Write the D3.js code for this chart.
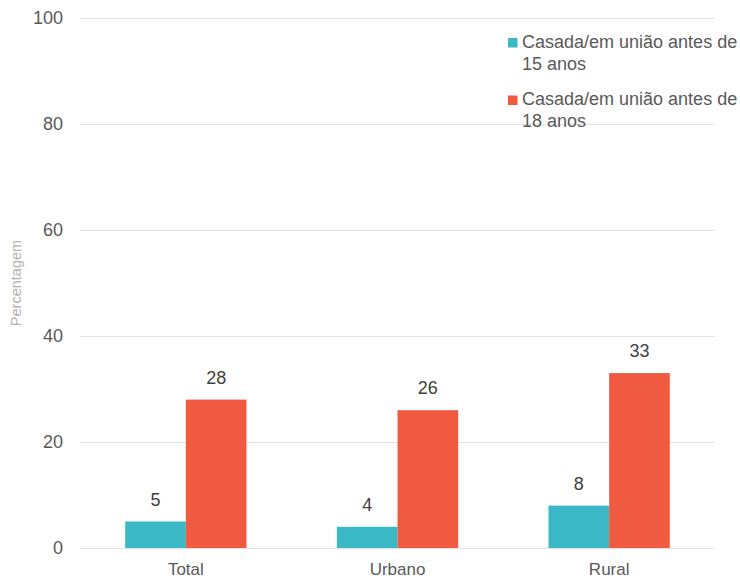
<!DOCTYPE html>
<html>
<head>
<meta charset="utf-8">
<script src="https://cdn.jsdelivr.net/npm/d3@7"></script>
<style>
  html, body { margin: 0; padding: 0; background: #fff; }
  svg { display: block; font-family: "Liberation Sans", Arial, sans-serif; }
</style>
</head>
<body>
<svg id="chart" width="740" height="579"></svg>
<script>
// Categories and series
const categories = ["Total", "Urbano", "Rural"];
const seriesNames = ["Casada/em união antes de 15 anos", "Casada/em união antes de 18 anos"];
const before15 = [5, 4, 8];
const before18 = [28, 26, 33];
const yTicks = [0, 20, 40, 60, 80, 100];
const colors = ["#3BB8C6", "#F05A40"];

const svg = d3.select("#chart");
const margin = { left: 80, right: 25, top: 18, bottom: 31 };
const W = 740, H = 579;

const x = d3.scaleBand()
  .domain(categories)
  .range([margin.left, W - margin.right])
  .paddingInner(0.427)
  .paddingOuter(0.2135);

const series = [before15, before18];
const xInner = d3.scaleBand()
  .domain(d3.range(series.length))
  .range([0, x.bandwidth()]);

const y = d3.scaleLinear().domain([0, 100]).range([H - margin.bottom, margin.top]);

// Gridlines
svg.append("g")
  .selectAll("line")
  .data(yTicks)
  .join("line")
  .attr("x1", margin.left)
  .attr("x2", W - margin.right)
  .attr("y1", d => y(d) + 0.5)
  .attr("y2", d => y(d) + 0.5)
  .attr("stroke", "#e3e3e3")
  .attr("stroke-width", 1);

// Y axis labels
const yAxis = svg.append("g")
  .attr("transform", `translate(${margin.left - 17},0)`)
  .call(d3.axisLeft(y).tickValues(yTicks).tickSize(0).tickPadding(0));
yAxis.select(".domain").remove();
yAxis.selectAll("text")
  .attr("font-size", 18)
  .attr("fill", "#595959")
  .attr("font-family", null);

// Y axis title
svg.append("text")
  .attr("transform", `translate(21,${(y(0) + y(100)) / 2}) rotate(-90)`)
  .attr("text-anchor", "middle")
  .attr("font-size", 14.5)
  .attr("fill", "#b3b3b3")
  .text("Percentagem");

// X axis labels
const xAxis = svg.append("g")
  .attr("transform", `translate(0,${y(0) + 15})`)
  .call(d3.axisBottom(x).tickSize(0).tickPadding(0));
xAxis.select(".domain").remove();
xAxis.selectAll("text")
  .attr("font-size", 17)
  .attr("fill", "#595959")
  .attr("font-family", null);

// Bars
series.forEach((vals, si) => {
  const g = svg.append("g");
  g.selectAll("rect")
    .data(vals)
    .join("rect")
    .attr("x", (d, i) => x(categories[i]) + xInner(si))
    .attr("width", xInner.bandwidth())
    .attr("y", d => y(d))
    .attr("height", d => y(0) - y(d))
    .attr("fill", colors[si]);
  g.selectAll("text")
    .data(vals)
    .join("text")
    .attr("x", (d, i) => x(categories[i]) + xInner(si) + xInner.bandwidth() / 2)
    .attr("y", d => y(d) - 16)
    .attr("text-anchor", "middle")
    .attr("font-size", 18)
    .attr("fill", "#404040")
    .text(d => d3.format(".0f")(d));
});

// Legend
const legend = svg.append("g").attr("transform", "translate(508,0)");
const legendLines = [["Casada/em união antes de", "15 anos"], ["Casada/em união antes de", "18 anos"]];
legendLines.forEach((lines, i) => {
  const gy = 47.5 + i * 57.5;
  legend.append("rect")
    .attr("x", 0).attr("y", gy - 9.5)
    .attr("width", 9.5).attr("height", 9.5)
    .attr("fill", colors[i]);
  const t = legend.append("text")
    .attr("x", 14).attr("y", gy)
    .attr("font-size", 18)
    .attr("fill", "#595959");
  lines.forEach((ln, j) => {
    t.append("tspan").attr("x", 14).attr("dy", j === 0 ? 0 : 22).text(ln);
  });
});
</script>
</body>
</html>
